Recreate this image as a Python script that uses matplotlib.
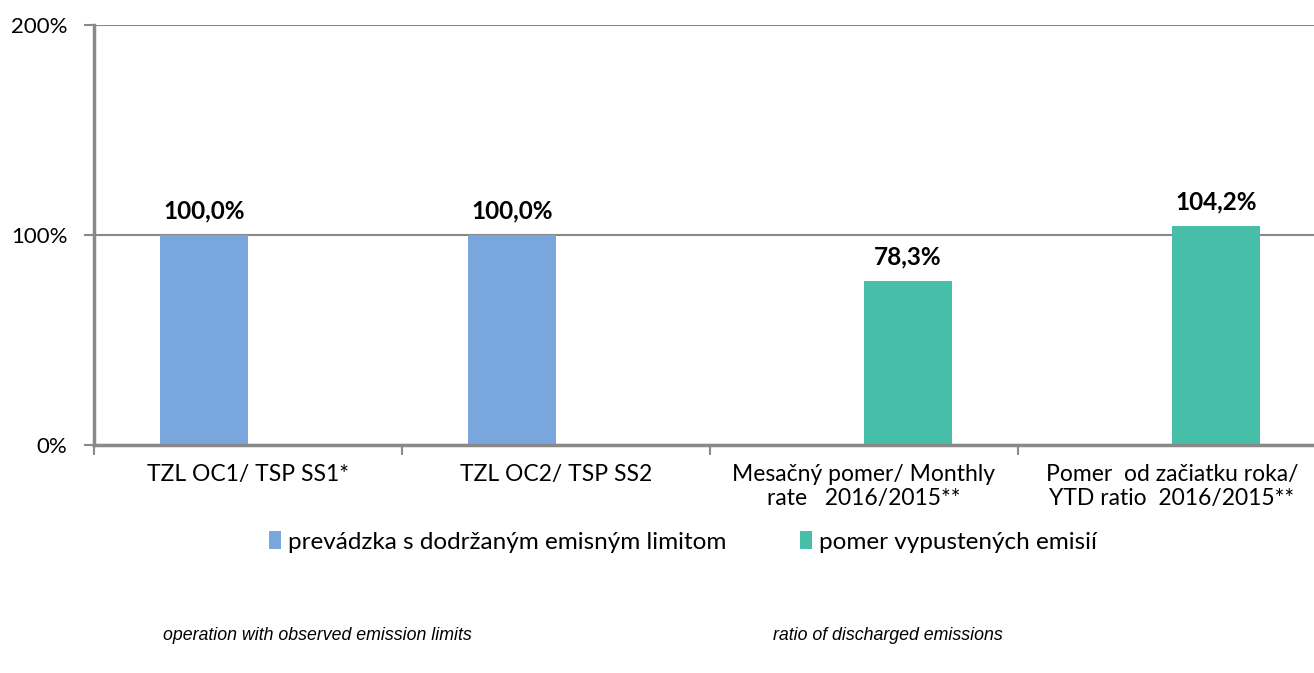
import matplotlib.pyplot as plt
import numpy as np
from matplotlib.ticker import FuncFormatter

plt.rcParams['font.family'] = ['Lato', 'DejaVu Sans']

categories = ["TZL OC1/ TSP SS1*", "TZL OC2/ TSP SS2",
              "Mesačný pomer/ Monthly\nrate   2016/2015**",
              "Pomer  od začiatku roka/\nYTD ratio  2016/2015**"]
series_names = ["prevádzka s dodržaným emisným limitom", "pomer vypustených emisií"]
limit_vals = [100.0, 100.0, 0, 0]
ratio_vals = [0, 0, 78.3, 104.2]
notes = ["operation with observed emission limits", "ratio of discharged emissions"]
colors = ["#7AA6DE", "#47BFA8"]

fig = plt.figure(figsize=(13.14, 6.73), dpi=100)
ax = fig.add_axes([94/1314, 1 - 445/673, 1232/1314, 420/673])

x = np.arange(len(categories))
w = 0.286
b1 = ax.bar(x - w/2, limit_vals, w, color=colors[0], label=series_names[0], zorder=3)
b2 = ax.bar(x + w/2, ratio_vals, w, color=colors[1], label=series_names[1], zorder=3)

for bars, vals in ((b1, limit_vals), (b2, ratio_vals)):
    for rect, v in zip(bars, vals):
        if v > 0:
            ax.text(rect.get_x() + rect.get_width()/2, v + 6,
                    f"{v:.1f}%".replace(".", ","), ha="center", va="bottom",
                    fontsize=17.5, fontweight="bold")

gray = "#898989"
ax.set_xlim(-0.5, 3.5)
ax.set_ylim(0, 200)
ax.set_yticks([0, 100, 200])
ax.yaxis.set_major_formatter(FuncFormatter(lambda v, p: f"{v:.0f}%"))
ax.yaxis.grid(True, color=gray, linewidth=1.5, zorder=0)
ax.set_xticks(x)
ax.set_xticklabels(categories, fontsize=16.5, linespacing=1.15)
ax.set_xticks(np.arange(-0.5, 4.0, 1), minor=True)
ax.tick_params(axis="x", which="major", length=0, pad=14)
ax.tick_params(axis="x", which="minor", length=7, color=gray, width=1.5)
ax.tick_params(axis="y", length=7, color=gray, width=1.5, labelsize=16, pad=12)
for s in ("top", "right"):
    ax.spines[s].set_visible(False)
for s in ("left", "bottom"):
    ax.spines[s].set_color(gray)
    ax.spines[s].set_linewidth(2.5)
ax.spines["left"].set_zorder(4)
ax.spines["bottom"].set_zorder(4)

fig.legend(loc="center", bbox_to_anchor=(683/1314, 1 - 542/673), ncol=2,
           frameon=False, fontsize=17.5, handlelength=0.5, handleheight=0.7,
           handletextpad=0.3, columnspacing=3.0)

fig.text(317/1314, 1 - 635/673, notes[0], ha="center", va="center",
         fontsize=12.8, style="italic", family="Liberation Sans")
fig.text(888/1314, 1 - 635/673, notes[1], ha="center", va="center",
         fontsize=12.8, style="italic", family="Liberation Sans")

fig.savefig("out.png", dpi=100)
